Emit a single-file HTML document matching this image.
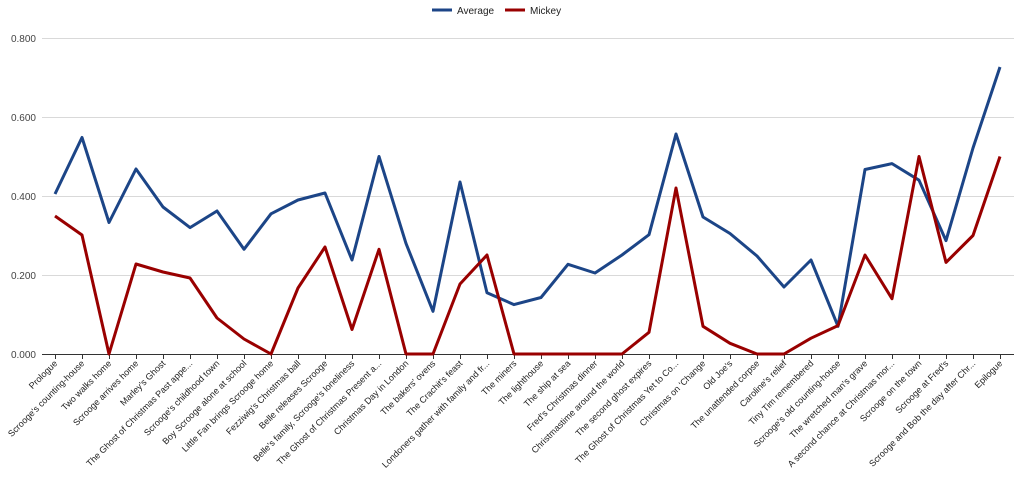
<!DOCTYPE html>
<html><head><meta charset="utf-8"><style>
html,body{margin:0;padding:0;background:#fff;}
svg{display:block;font-family:"Liberation Sans",Arial,sans-serif;}
</style></head><body>
<svg width="1024" height="487" viewBox="0 0 1024 487">
<g stroke="#d9d9d9" stroke-width="1">
<line x1="42" x2="1014" y1="38.5" y2="38.5"/>
<line x1="42" x2="1014" y1="117.5" y2="117.5"/>
<line x1="42" x2="1014" y1="196.5" y2="196.5"/>
<line x1="42" x2="1014" y1="275.5" y2="275.5"/>
</g>
<line x1="42" x2="1014" y1="354.5" y2="354.5" stroke="#333" stroke-width="1"/>
<path stroke="#333" stroke-width="1" d="M55.5 354v5M82.5 354v5M109.5 354v5M136.5 354v5M163.5 354v5M190.5 354v5M217.5 354v5M244.5 354v5M271.5 354v5M298.5 354v5M325.5 354v5M352.5 354v5M379.5 354v5M406.5 354v5M433.5 354v5M460.5 354v5M487.5 354v5M514.5 354v5M541.5 354v5M568.5 354v5M595.5 354v5M622.5 354v5M649.5 354v5M676.5 354v5M703.5 354v5M730.5 354v5M757.5 354v5M784.5 354v5M811.5 354v5M838.5 354v5M865.5 354v5M892.5 354v5M919.5 354v5M946.5 354v5M973.5 354v5M1000.5 354v5"/>
<g font-size="10" fill="#444" text-anchor="end">
<text x="36" y="42">0.800</text><text x="36" y="121">0.600</text><text x="36" y="200">0.400</text><text x="36" y="279">0.200</text><text x="36" y="358">0.000</text>
</g>
<g font-size="10" fill="#222">
<line x1="432" x2="452" y1="10" y2="10" stroke="#1c4587" stroke-width="3"/>
<text x="457" y="14">Average</text>
<line x1="505" x2="525" y1="10" y2="10" stroke="#990000" stroke-width="3"/>
<text x="530" y="14">Mickey</text>
</g>
<polyline fill="none" stroke="#1c4587" stroke-width="3" stroke-linejoin="round" points="55,194 82,137.5 109,222.5 136,169 163,207 190,227.6 217,211 244,249.3 271,213.8 298,200 325,193 352,260 379,156.5 406,243.4 433,311.3 460,182 487,292.8 514,304.6 541,297.5 568,264.3 595,273 622,255 649,234.7 676,134 703,217 730,233.5 757,256 784,287 811,260 838,326.3 865,169.5 892,163.6 919,180.2 946,240.6 973,148 1000,67"/>
<polyline fill="none" stroke="#990000" stroke-width="3" stroke-linejoin="round" points="55,216 82,235 109,354 136,264 163,272 190,278 217,318 244,339 271,354 298,288 325,247 352,329.5 379,249.3 406,354 433,354 460,284 487,255 514,354 541,354 568,354 595,354 622,354 649,332.3 676,188 703,326.3 730,343.3 757,354 784,354 811,338.2 838,325.6 865,255 892,298.7 919,156.5 946,262.4 973,235.5 1000,156.5"/>
<g font-size="9" fill="#222" text-anchor="end">
<text transform="translate(58,364) rotate(-45)">Prologue</text>
<text transform="translate(85,364) rotate(-45)">Scrooge's counting-house</text>
<text transform="translate(112,364) rotate(-45)">Two walks home</text>
<text transform="translate(139,364) rotate(-45)">Scrooge arrives home</text>
<text transform="translate(166,364) rotate(-45)">Marley's Ghost</text>
<text transform="translate(193,364) rotate(-45)">The Ghost of Christmas Past appe...</text>
<text transform="translate(220,364) rotate(-45)">Scrooge's childhood town</text>
<text transform="translate(247,364) rotate(-45)">Boy Scrooge alone at school</text>
<text transform="translate(274,364) rotate(-45)">Little Fan brings Scrooge home</text>
<text transform="translate(301,364) rotate(-45)">Fezziwig's Christmas ball</text>
<text transform="translate(328,364) rotate(-45)">Belle releases Scrooge</text>
<text transform="translate(355,364) rotate(-45)">Belle's family, Scrooge's loneliness</text>
<text transform="translate(382,364) rotate(-45)">The Ghost of Christmas Present a...</text>
<text transform="translate(409,364) rotate(-45)">Christmas Day in London</text>
<text transform="translate(436,364) rotate(-45)">The bakers' ovens</text>
<text transform="translate(463,364) rotate(-45)">The Crachit's feast</text>
<text transform="translate(490,364) rotate(-45)">Londoners gather with family and fr...</text>
<text transform="translate(517,364) rotate(-45)">The miners</text>
<text transform="translate(544,364) rotate(-45)">The lighthouse</text>
<text transform="translate(571,364) rotate(-45)">The ship at sea</text>
<text transform="translate(598,364) rotate(-45)">Fred's Christmas dinner</text>
<text transform="translate(625,364) rotate(-45)">Christmastime around the world</text>
<text transform="translate(652,364) rotate(-45)">The second ghost expires</text>
<text transform="translate(679,364) rotate(-45)">The Ghost of Christmas Yet to Co...</text>
<text transform="translate(706,364) rotate(-45)">Christmas on 'Change</text>
<text transform="translate(733,364) rotate(-45)">Old Joe's</text>
<text transform="translate(760,364) rotate(-45)">The unattended corpse</text>
<text transform="translate(787,364) rotate(-45)">Caroline's relief</text>
<text transform="translate(814,364) rotate(-45)">Tiny Tim remembered</text>
<text transform="translate(841,364) rotate(-45)">Scrooge's old counting-house</text>
<text transform="translate(868,364) rotate(-45)">The wretched man's grave</text>
<text transform="translate(895,364) rotate(-45)">A second chance at Christmas mor...</text>
<text transform="translate(922,364) rotate(-45)">Scrooge on the town</text>
<text transform="translate(949,364) rotate(-45)">Scrooge at Fred's</text>
<text transform="translate(976,364) rotate(-45)">Scrooge and Bob the day after Chr...</text>
<text transform="translate(1003,364) rotate(-45)">Epilogue</text>
</g>
</svg>
</body></html>
